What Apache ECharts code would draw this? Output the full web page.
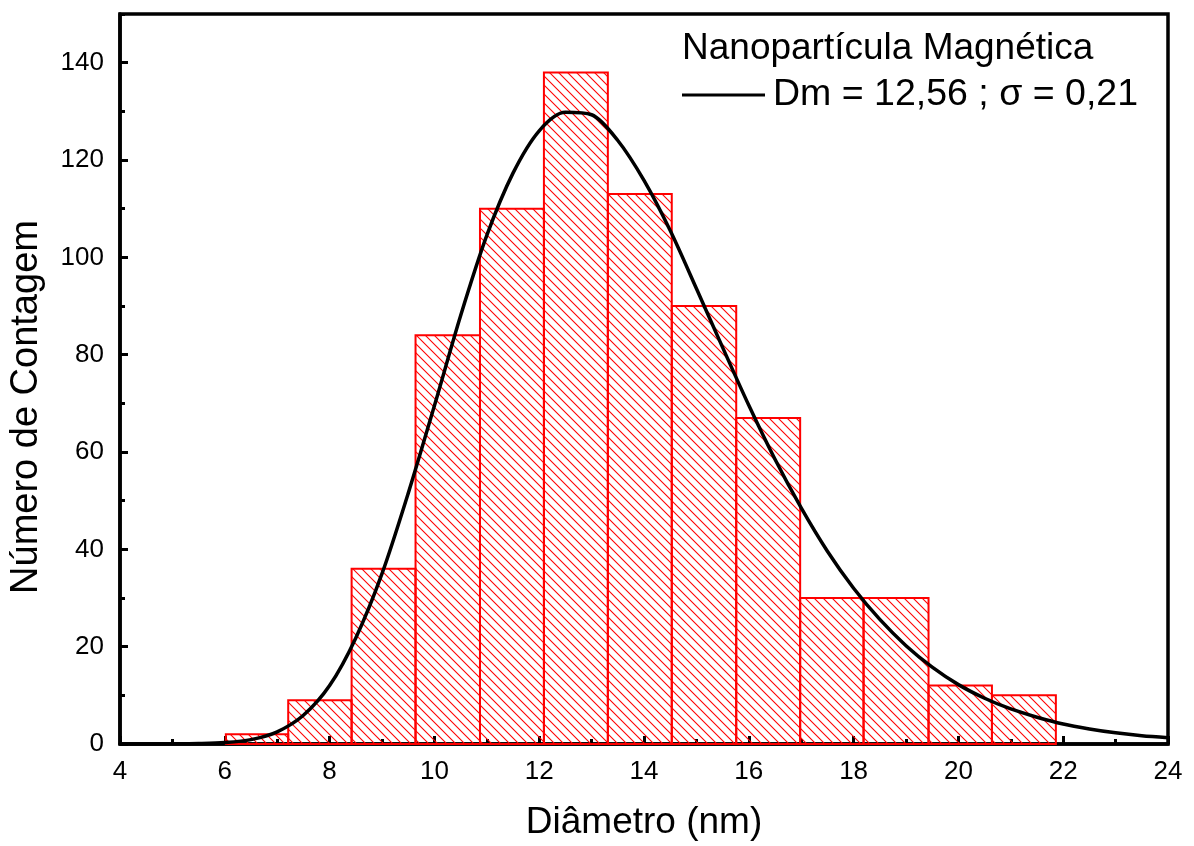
<!DOCTYPE html>
<html>
<head>
<meta charset="utf-8">
<script src="https://cdn.jsdelivr.net/npm/echarts@6/dist/echarts.min.js"></script>
<style>html,body{margin:0;padding:0;background:#fff;overflow:hidden}#c{width:1194px;height:846px}</style>
</head>
<body>
<div id="c"></div>
<script>
// Histogram bin edges (nm) and counts
const binEdges = [6.02, 7.21, 8.42, 9.64, 10.87, 12.09, 13.31, 14.53, 15.76, 16.98, 18.19, 19.43, 20.64, 21.86];
const counts = [2, 9, 36, 84, 110, 138, 113, 90, 67, 30, 30, 12, 10];
// Fitted curve
const curveX = [4.0, 4.5, 5.0, 5.5, 6.0, 6.5, 7.0, 7.5, 8.0, 8.5, 9.0, 9.5, 10.0, 10.5, 11.0, 11.5, 12.0, 12.5, 13.0, 13.5, 14.0, 14.5, 15.0, 15.5, 16.0, 16.5, 17.0, 17.5, 18.0, 18.5, 19.0, 19.5, 20.0, 20.5, 21.0, 21.5, 22.0, 22.5, 23.0, 23.5, 24.0];
const curveY = [0, 0.01, 0.03, 0.1, 0.3, 0.9, 2.5, 5.9, 12.0, 21.8, 35, 51.5, 69.5, 88, 104.5, 117.3, 126, 129.8, 129.3, 124, 115.8, 105.5, 93.6, 81.5, 69.6, 58.5, 48.5, 39.6, 32, 25.6, 20.2, 15.8, 12.2, 9.4, 7.2, 5.5, 4.1, 3.1, 2.3, 1.7, 1.3];
const xTicks = { min: 4, max: 24, interval: 2 };
const yTicks = { min: 0, max: 150, interval: 20 };
const titleText = 'Nanopartícula Magnética';
const curveName = 'Dm = 12,56 ; σ = 0,21';
const xName = 'Diâmetro (nm)';
const yName = 'Número de Contagem';

const binData = counts.map((c, i) => [binEdges[i], binEdges[i + 1], c]);
const curveData = curveX.map((x, i) => [x, curveY[i]]);

// hatch pattern "\\\\"
const S = 9;
const pc = document.createElement('canvas');
pc.width = S; pc.height = S;
const g = pc.getContext('2d');
g.strokeStyle = '#ff0000';
g.lineWidth = 1.1;
for (const k of [-S, 0, S]) {
  g.beginPath();
  g.moveTo(k - 1, -1);
  g.lineTo(k + S + 1, S + 1);
  g.stroke();
}

const FONT = 'Liberation Sans, Arial, sans-serif';
const chart = echarts.init(document.getElementById('c'), null, { renderer: 'canvas', width: 1194, height: 846 });
chart.setOption({
  animation: false,
  backgroundColor: '#fff',
  textStyle: { fontFamily: FONT },
  title: {
    text: titleText, left: 677, top: 25,
    textStyle: { fontFamily: FONT, fontSize: 37, fontWeight: 'normal', color: '#000' }
  },
  legend: {
    data: [{ name: curveName }],
    left: 677, top: 71,
    icon: 'rect', itemWidth: 83, itemHeight: 3, itemGap: 10,
    textStyle: { fontFamily: FONT, fontSize: 37.5, color: '#000', padding: [0, 0, 0, 3] }
  },
  graphic: [{
    type: 'text',
    x: 27, y: 407,
    rotation: Math.PI / 2,
    style: { text: yName, fontFamily: FONT, fontSize: 38, fill: '#000', align: 'center', verticalAlign: 'middle' }
  }],
  grid: { left: 120, width: 1048, top: 14, height: 734, show: true, borderColor: '#000', borderWidth: 3.5, backgroundColor: 'transparent' },
  xAxis: {
    type: 'value', min: xTicks.min, max: xTicks.max, interval: xTicks.interval,
    name: xName, nameLocation: 'middle', nameGap: 60,
    nameTextStyle: { fontFamily: FONT, fontSize: 37, color: '#000' },
    axisLine: { show: true, onZero: false, lineStyle: { color: '#000', width: 3.5 } },
    axisTick: { show: true, inside: true, length: 8, lineStyle: { color: '#000', width: 3 } },
    minorTick: { show: true, splitNumber: 2, length: 5, lineStyle: { color: '#000', width: 3 } },
    splitLine: { show: false },
    axisLabel: { fontFamily: FONT, fontSize: 26, color: '#000', margin: 15 }
  },
  yAxis: [{
    type: 'value', min: yTicks.min, max: yTicks.max, interval: yTicks.interval,
    axisLine: { show: true, onZero: false, lineStyle: { color: '#000', width: 3.5 } },
    axisTick: { show: true, inside: true, length: 8, lineStyle: { color: '#000', width: 3 } },
    minorTick: { show: false },
    splitLine: { show: false },
    axisLabel: { fontFamily: FONT, fontSize: 26, color: '#000', margin: 16, showMaxLabel: false }
  }, {
    type: 'value', min: yTicks.min, max: yTicks.max, interval: yTicks.interval / 2, position: 'left',
    axisLine: { show: false },
    axisTick: { show: true, inside: true, length: 5, lineStyle: { color: '#000', width: 3 } },
    axisLabel: { show: false },
    splitLine: { show: false }
  }],
  series: [{
    type: 'custom',
    name: 'Contagem',
    data: binData,
    encode: { x: [0, 1], y: 2 },
    renderItem: function (params, api) {
      const p0 = api.coord([api.value(0), api.value(2)]);
      const p1 = api.coord([api.value(1), 0]);
      return {
        type: 'rect',
        shape: { x: p0[0], y: p0[1], width: p1[0] - p0[0], height: p1[1] - p0[1] },
        style: { fill: { image: pc, repeat: 'repeat' }, stroke: '#ff0000', lineWidth: 2 }
      };
    },
    z: 2
  }, {
    type: 'line',
    name: curveName,
    data: curveData,
    smooth: 0.3,
    showSymbol: false,
    symbol: 'none',
    lineStyle: { color: '#000', width: 3.5 },
    itemStyle: { color: '#000' },
    z: 5
  }]
});
</script>
</body>
</html>
